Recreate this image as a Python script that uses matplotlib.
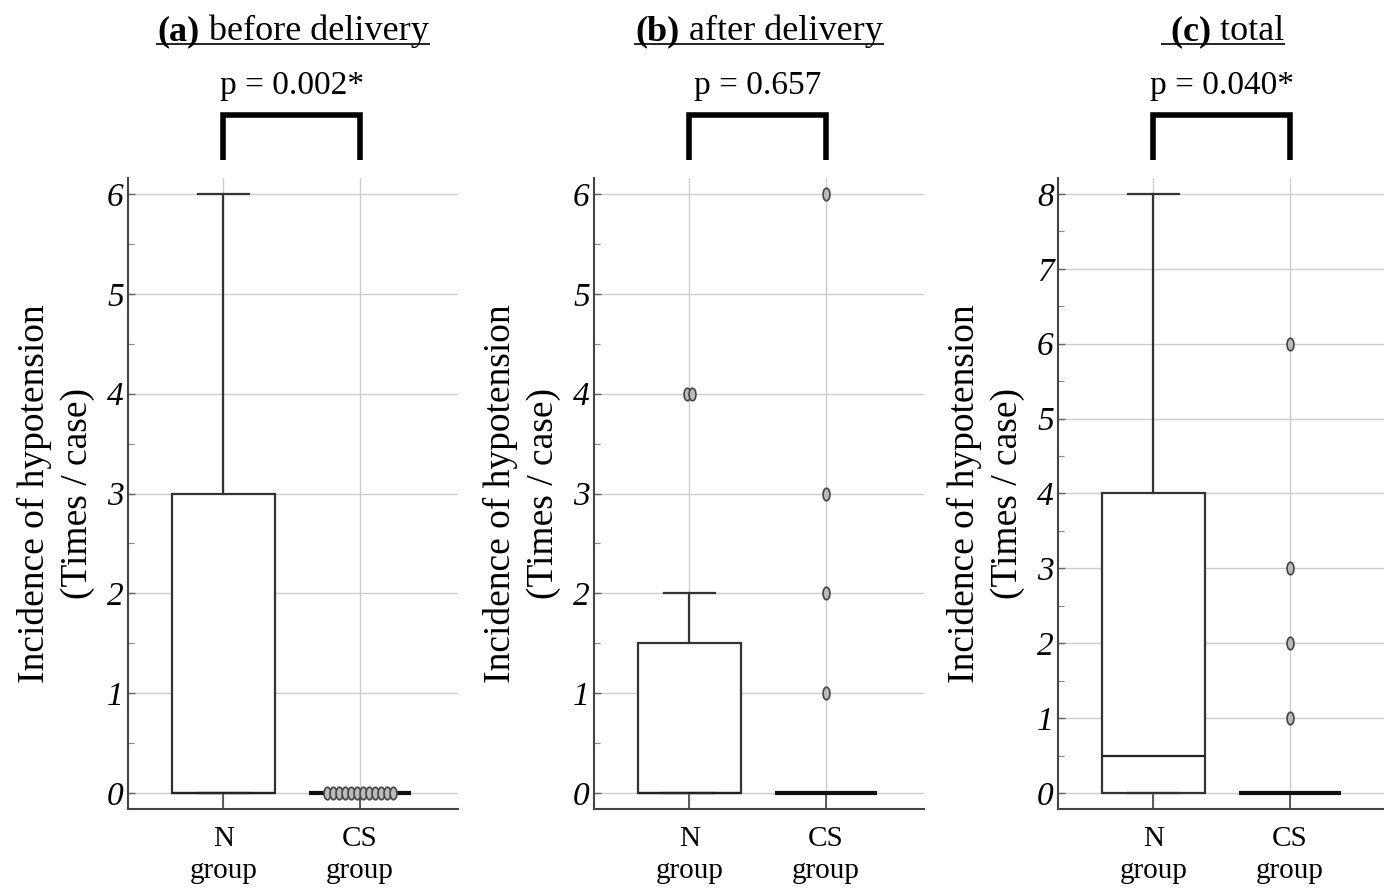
import numpy as np
import matplotlib
matplotlib.use("Agg")
import matplotlib.pyplot as plt
from matplotlib.path import Path
from matplotlib.transforms import Affine2D, blended_transform_factory

plt.rcParams['font.family'] = ['Liberation Serif', 'DejaVu Serif']

# data
groups = ["N\ngroup", "CS\ngroup"]
title_tags = ["(a)", "(b)", " (c)"]
title_names = [" before delivery", " after delivery", " total"]
p_texts = ["p = 0.002*", "p = 0.657", "p = 0.040*"]

# per panel: [N group, CS group]
q1 = [[0, 0], [0, 0], [0, 0]]
med = [[0, 0], [0, 0], [0.5, 0]]
q3 = [[3, 0], [1.5, 0], [4, 0]]
whis_lo = [[0, 0], [0, 0], [0, 0]]
whis_hi = [[6, 0], [2, 0], [8, 0]]
fliers = [[[], [0] * 12], [[4, 4], [1, 2, 3, 6]], [[], [1, 2, 3, 6]]]
ymax = [6, 6, 8]

W, H = 1384, 891
fig = plt.figure(figsize=(W / 100, H / 100), dpi=100)

lefts = [128, 594, 1058]
ax_w = 330
ax_bot, ax_top = 809, 178

oval = Path.unit_circle().transformed(Affine2D().scale(0.55, 1.0))

for k in range(3):
    ax = fig.add_axes([lefts[k] / W, (H - ax_bot) / H, ax_w / W, (ax_bot - ax_top) / H])
    stats = []
    for g in range(2):
        stats.append(dict(q1=q1[k][g], med=med[k][g], q3=q3[k][g],
                          whislo=whis_lo[k][g], whishi=whis_hi[k][g], fliers=[]))
    res = ax.bxp(stats, positions=[1, 2], widths=0.75, patch_artist=True,
                 showfliers=False,
                 boxprops=dict(facecolor='white', edgecolor='#333333', linewidth=1.6),
                 medianprops=dict(color='#222222', linewidth=1.6),
                 whiskerprops=dict(color='#333333', linewidth=1.6),
                 capprops=dict(color='#333333', linewidth=1.6), capwidths=0.375,
                 zorder=3)
    res['medians'][1].set_linewidth(3.0)
    res['medians'][1].set_color('#111111')

    # outliers, side by side when they share a value
    for g in range(2):
        vals = np.array(fliers[k][g], dtype=float)
        for v in np.unique(vals):
            n = int(np.sum(vals == v))
            if n == 1:
                offs = np.array([0.0])
            elif n == 2:
                offs = np.array([-0.018, 0.018])
            else:
                offs = np.linspace(-0.24, 0.24, n)
            ax.plot(g + 1 + offs, np.full(n, v), linestyle='none', marker=oval,
                    markersize=9, markerfacecolor='#bbbbbb', markeredgecolor='#444444',
                    markeredgewidth=1.2, zorder=4)

    ax.set_xlim(0.3, 2.72)
    pad_y = 0.16 if ymax[k] == 6 else 0.213
    ax.set_ylim(-pad_y, ymax[k] + pad_y)
    ax.set_xticks([1, 2])
    ax.set_xticklabels(groups, fontsize=21, linespacing=1.3)
    ax.set_yticks(np.arange(0, ymax[k] + 1))
    ax.set_yticks(np.arange(0.5, ymax[k], 1.0), minor=True)
    for lab in ax.get_yticklabels():
        lab.set_fontstyle('italic')
        lab.set_fontsize(24)
    ax.tick_params(axis='x', direction='in', length=11, width=1.2, color='#444444', pad=12)
    ax.tick_params(axis='y', which='major', direction='in', length=5, width=1.0,
                   color='#666666', pad=3)
    ax.tick_params(axis='y', which='minor', direction='in', length=4, width=0.8, color='#888888')
    ax.grid(True, which='major', color='#cccccc', linewidth=1.0, zorder=0)
    ax.set_axisbelow(True)
    for s in ['top', 'right']:
        ax.spines[s].set_visible(False)
    for s in ['left', 'bottom']:
        ax.spines[s].set_color('#444444')
        ax.spines[s].set_linewidth(1.5)
    ax.set_ylabel("Incidence of hypotension\n(Times / case)", fontsize=27,
                  linespacing=1.3, labelpad=9)

    # significance bracket
    tr = blended_transform_factory(ax.transData, ax.transAxes)
    ax.plot([1, 1, 2, 2], [1.0285, 1.10, 1.10, 1.0285], transform=tr, color='black',
            linewidth=4.0, solid_joinstyle='miter', solid_capstyle='butt', clip_on=False)
    ax.text(1.5, 1.146, p_texts[k], transform=tr, ha='center', va='center', fontsize=24)

    # underlined title: bold tag + regular name
    cx = (lefts[k] + ax_w / 2) / W
    ty = 1 - 40 / H
    t1 = fig.text(cx, ty, title_tags[k], fontsize=26, fontweight='bold', va='baseline')
    t2 = fig.text(cx, ty, title_names[k], fontsize=26, va='baseline')
    r = fig.canvas.get_renderer()
    w1 = t1.get_window_extent(r).width / W
    w2 = t2.get_window_extent(r).width / W
    x0 = cx - (w1 + w2) / 2
    t1.set_x(x0)
    t2.set_x(x0 + w1)
    uy = 1 - 44 / H
    fig.add_artist(plt.Line2D([x0, x0 + w1 + w2], [uy, uy], color='#222222', linewidth=1.4))

fig.savefig("out.png", dpi=100)
